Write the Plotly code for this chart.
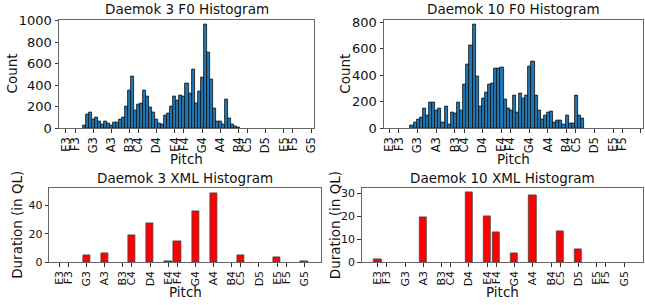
import plotly.graph_objects as go

# ---------------- data ----------------
note_names = ["E3", "F3", "G3", "A3", "B3", "C4", "D4", "E4", "F4",
              "G4", "A4", "B4", "C5", "D5", "E5", "F5", "G5"]
note_midi = [52, 53, 55, 57, 59, 60, 62, 64, 65, 67, 69, 71, 72, 74, 76, 77, 79]

# F0 histograms (bins of 1/3 semitone)
d3_bin_start = 54.0
d3_counts = [20, 130, 140, 75, 95, 60, 35, 65, 40, 20, 55, 55, 75, 95, 200, 345,
             480, 165, 215, 230, 350, 290, 190, 145, 80, 40, 30, 115, 135, 200,
             290, 260, 305, 295, 415, 320, 545, 230, 340, 470, 960, 700, 455,
             185, 60, 60, 35, 265, 85, 30, 15, 5]
d10_bin_start = 54.4
d10_counts = [20, 40, 65, 80, 150, 95, 195, 190, 135, 145, 40, 165, 30, 120, 110,
              190, 135, 330, 480, 625, 780, 390, 165, 220, 270, 330, 340, 450, 450,
              455, 215, 150, 130, 245, 120, 260, 225, 245, 465, 500, 245, 130, 65,
              95, 115, 125, 45, 55, 60, 30, 95, 35, 35, 245, 95, 75]
bin_width = 1 / 3

# XML histograms (duration per semitone, E3..G5)
xml_midi = list(range(52, 80))
d3_xml = [0, 0, 0, 5, 0, 6.5, 0, 0, 19, 0, 27.5, 0, 0.6, 15, 0, 36, 0, 49,
          0, 0, 5, 0, 0, 0, 3.5, 0, 0, 0.5]
d10_xml = [1, 0, 0, 0, 0, 19.8, 0, 0, 0, 0, 30.7, 0, 20, 12.9, 0, 4, 0, 29.3,
           0, 0, 13.3, 0, 5.5, 0, 0, 0, 0, 0]

titles = ["Daemok 3 F0 Histogram", "Daemok 10 F0 Histogram",
          "Daemok 3 XML Histogram", "Daemok 10 XML Histogram"]

# ---------------- figure ----------------
W, H = 645, 305
FONT = "DejaVu Sans"
BLUE = "#1f77b4"

def centers(start, n):
    return [start + i * bin_width for i in range(n)]

def edge_widths(vals, w):
    return [w if v > 0 else 0 for v in vals]

fig = go.Figure()
fig.add_trace(go.Bar(x=centers(d3_bin_start, len(d3_counts)), y=d3_counts,
                     width=bin_width, marker=dict(color=BLUE, line=dict(color="#111", width=0.8)),
                     xaxis="x", yaxis="y"))
fig.add_trace(go.Bar(x=centers(d10_bin_start, len(d10_counts)), y=d10_counts,
                     width=bin_width, marker=dict(color=BLUE, line=dict(color="#111", width=0.8)),
                     xaxis="x2", yaxis="y2"))
fig.add_trace(go.Bar(x=xml_midi, y=d3_xml, width=0.8,
                     marker=dict(color="#ff0000",
                                 line=dict(color="#444", width=edge_widths(d3_xml, 0.8))),
                     xaxis="x3", yaxis="y3"))
fig.add_trace(go.Bar(x=xml_midi, y=d10_xml, width=0.8,
                     marker=dict(color="#ff0000",
                                 line=dict(color="#444", width=edge_widths(d10_xml, 0.8))),
                     xaxis="x4", yaxis="y4"))

def px_x(p):
    return p / W

def px_y(p):
    return (H - p) / H

# axes frames in pixels: (left, right, top, bottom)
frames = [(59, 314, 19.5, 128), (384, 643, 19.5, 128),
          (49.3, 320.7, 188.3, 262), (361.7, 642.7, 188.3, 262)]
xranges = [[51.23, 79.33], [51.39, 79.22], [50.9, 80.8], [50.25, 81.05]]
yranges = [[0, 1010], [0, 820], [0, 52.2], [0, 32.3]]
ytickvals = [[0, 200, 400, 600, 800, 1000], [0, 200, 400, 600, 800],
             [0, 20, 40], [0, 10, 20, 30]]
xtickfont = [11.5, 11.5, 11, 11]
ytickfont = [13, 13, 11, 11]
ylabels = ["Count", "Count", "Duration (in QL)", "Duration (in QL)"]
ylabel_x = [11.7, 345, 16.7, 335]
pitch_y = [158.5, 158.5, 292, 292]

layout = dict(width=W, height=H, margin=dict(l=0, r=0, t=0, b=0, pad=0, autoexpand=False),
              paper_bgcolor="white", plot_bgcolor="white", showlegend=False,
              bargap=0, font=dict(family=FONT, color="#111"))
annotations = []
for i in range(4):
    l, r, t, b = frames[i]
    sx = "" if i == 0 else str(i + 1)
    layout["xaxis" + sx] = dict(
        domain=[px_x(l), px_x(r)], range=xranges[i], anchor="y" + sx, automargin=False,
        tickmode="array", tickvals=note_midi, ticktext=note_names, tickangle=-90,
        ticks="outside", ticklen=3.5, tickwidth=0.8, tickcolor="#333",
        showline=True, linecolor="#666", linewidth=1, mirror=True,
        showgrid=False, zeroline=False, tickfont=dict(size=xtickfont[i], color="#111"))
    layout["yaxis" + sx] = dict(
        domain=[px_y(b), px_y(t)], range=yranges[i], anchor="x" + sx, automargin=False,
        tickmode="array", tickvals=ytickvals[i],
        ticks="outside", ticklen=3.5, tickwidth=0.8, tickcolor="#333",
        showline=True, linecolor="#666", linewidth=1, mirror=True,
        showgrid=False, zeroline=False, tickfont=dict(size=ytickfont[i], color="#111"))
    # title
    annotations.append(dict(text=titles[i], xref="paper", yref="paper",
                            x=px_x((l + r) / 2), y=px_y(t), xanchor="center",
                            yanchor="bottom", yshift=0, showarrow=False,
                            font=dict(size=13.5, family=FONT, color="#111")))
    # y label
    annotations.append(dict(text=ylabels[i], xref="paper", yref="paper",
                            x=px_x(ylabel_x[i]), y=px_y((t + b) / 2), xanchor="center",
                            yanchor="middle", textangle=-90, showarrow=False,
                            font=dict(size=13.5, family=FONT, color="#111")))
    # x label
    annotations.append(dict(text="Pitch", xref="paper", yref="paper",
                            x=px_x((l + r) / 2), y=px_y(pitch_y[i]), xanchor="center",
                            yanchor="middle", showarrow=False,
                            font=dict(size=13.5, family=FONT, color="#111")))
layout["annotations"] = annotations
fig.update_layout(**layout)
fig.write_html("out.html",
               config={"displayModeBar": False},
               post_script="document.body.style.margin='0';"
                           "document.body.style.overflow='hidden';")
